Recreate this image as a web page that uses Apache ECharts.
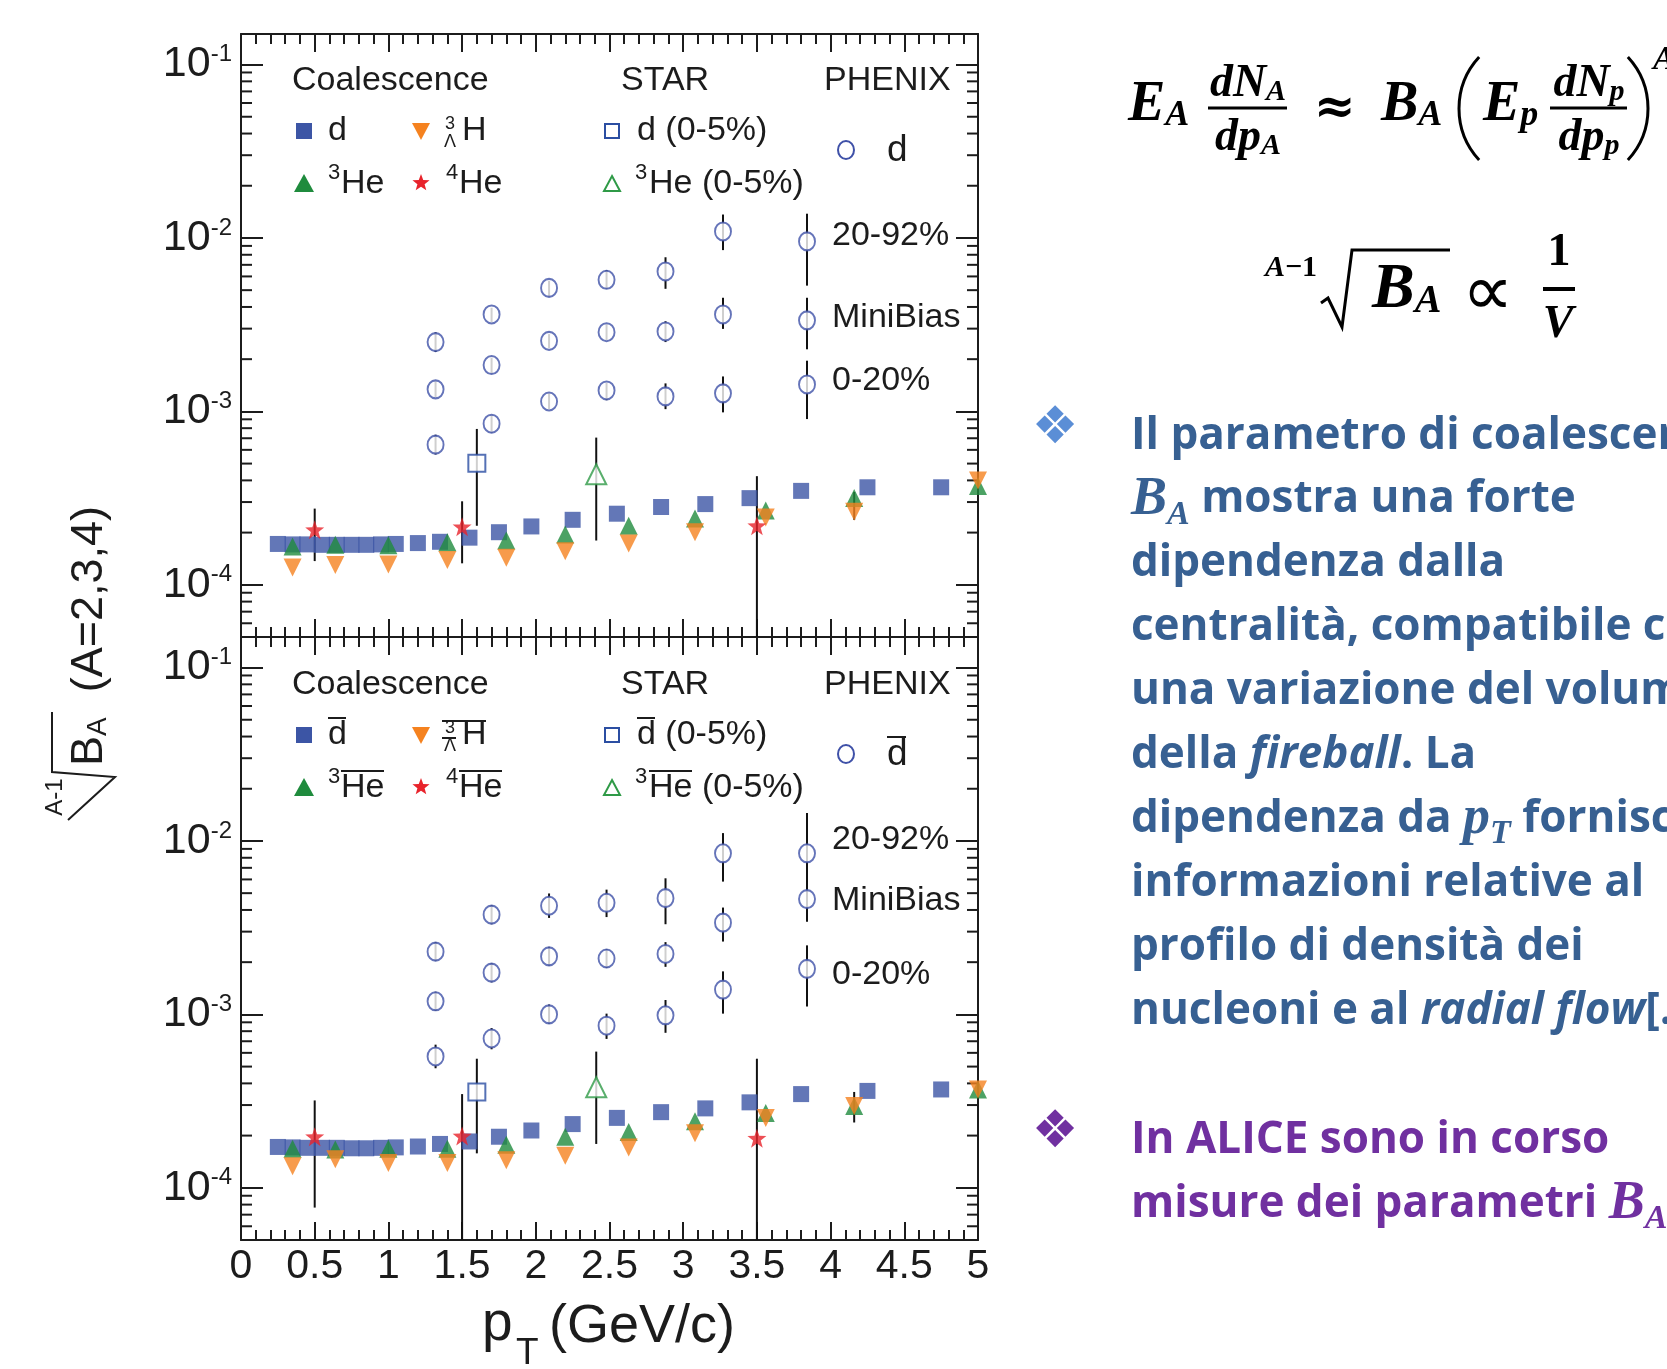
<!DOCTYPE html>
<html>
<head>
<meta charset="utf-8">
<script src="https://cdn.jsdelivr.net/npm/echarts@6/dist/echarts.min.js"></script>
<style>
html,body{margin:0;padding:0;background:#fff;}
#c{width:1667px;height:1369px;}
</style>
</head>
<body>
<div id="c"></div>
<script>
// ---------------- DATA ----------------
const ptD = [0.25,0.35,0.45,0.55,0.65,0.75,0.85,0.95,1.05,1.2,1.35,1.55,1.75,1.97,2.25,2.55,2.85,3.15,3.45,3.8,4.25,4.75];
const ptA3 = [0.35,0.64,1.0,1.4,1.8,2.2,2.63,3.08,3.56,4.16,5.0];
const ptA4 = [0.5,1.5,3.5];
const ptPhenix = [1.32,1.70,2.09,2.48,2.88,3.27,3.84];
const ptStarD = [1.6];
const ptStarHe3 = [2.41];
const ptA3Err = [4.16];

// top panel: particles
const topD   = [1.72e-4,1.71e-4,1.71e-4,1.70e-4,1.70e-4,1.70e-4,1.70e-4,1.71e-4,1.72e-4,1.74e-4,1.77e-4,1.87e-4,2.01e-4,2.17e-4,2.37e-4,2.57e-4,2.81e-4,2.92e-4,3.16e-4,3.48e-4,3.65e-4,3.65e-4];
const topH3L = [1.26e-4,1.30e-4,1.31e-4,1.39e-4,1.43e-4,1.56e-4,1.73e-4,2.01e-4,2.44e-4,2.64e-4,4.0e-4];
const topHe3 = [1.66e-4,1.70e-4,1.69e-4,1.76e-4,1.80e-4,1.95e-4,2.19e-4,2.41e-4,2.68e-4,3.17e-4,3.71e-4];
const topA3ErrLo = [2.37e-4];
const topA3ErrHi = [3.43e-4];
const topHe4   = [2.08e-4,2.16e-4,2.19e-4];
const topHe4Lo = [1.37e-4,1.33e-4,1e-5];
const topHe4Hi = [2.75e-4,3.03e-4,4.23e-4];
const topStarD = [5.02e-4], topStarDLo = [2.19e-4], topStarDHi = [7.92e-4];
const topStarHe3 = [4.34e-4], topStarHe3Lo = [1.80e-4], topStarHe3Hi = [7.06e-4];
const topPh2092   = [2.51e-3,3.62e-3,5.15e-3,5.74e-3,6.41e-3,1.09e-2,9.55e-3];
const topPh2092Lo = [2.20e-3,3.26e-3,4.59e-3,5.09e-3,5.09e-3,8.51e-3,5.31e-3];
const topPh2092Hi = [2.86e-3,3.96e-3,5.66e-3,6.52e-3,7.74e-3,1.365e-2,1.38e-2];
const topPhMB     = [1.34e-3,1.85e-3,2.55e-3,2.86e-3,2.89e-3,3.62e-3,3.35e-3];
const topPhMBLo   = [1.21e-3,1.65e-3,2.32e-3,2.58e-3,2.51e-3,2.99e-3,2.28e-3];
const topPhMBHi   = [1.49e-3,2.04e-3,2.79e-3,3.18e-3,3.31e-3,4.52e-3,4.52e-3];
const topPh020    = [6.43e-4,8.49e-4,1.14e-3,1.32e-3,1.22e-3,1.27e-3,1.43e-3];
const topPh020Lo  = [5.64e-4,7.52e-4,1.03e-3,1.16e-3,1.03e-3,9.87e-4,9.03e-4];
const topPh020Hi  = [7.33e-4,9.52e-4,1.27e-3,1.46e-3,1.45e-3,1.59e-3,1.96e-3];

// bottom panel: antiparticles
const botD   = [1.72e-4,1.71e-4,1.70e-4,1.70e-4,1.70e-4,1.69e-4,1.69e-4,1.70e-4,1.71e-4,1.73e-4,1.79e-4,1.85e-4,1.97e-4,2.14e-4,2.33e-4,2.53e-4,2.73e-4,2.87e-4,3.11e-4,3.47e-4,3.62e-4,3.69e-4];
const botH3L = [1.33e-4,1.46e-4,1.39e-4,1.39e-4,1.44e-4,1.53e-4,1.71e-4,2.06e-4,2.53e-4,2.96e-4,3.69e-4];
const botHe3 = [1.68e-4,1.66e-4,1.68e-4,1.68e-4,1.77e-4,1.97e-4,2.10e-4,2.42e-4,2.70e-4,2.96e-4,3.69e-4];
const botA3ErrLo = [2.38e-4];
const botA3ErrHi = [3.57e-4];
const botHe4   = [1.97e-4,1.99e-4,1.93e-4];
const botHe4Lo = [7.69e-5,1e-5,1e-5];
const botHe4Hi = [3.19e-4,3.47e-4,5.55e-4];
const botStarD = [3.57e-4], botStarDLo = [1.58e-4], botStarDHi = [5.55e-4];
const botStarHe3 = [3.80e-4], botStarHe3Lo = [1.79e-4], botStarHe3Hi = [6.10e-4];
const botPh2092   = [2.30e-3,3.76e-3,4.23e-3,4.40e-3,4.68e-3,8.49e-3,8.49e-3];
const botPh2092Lo = [2.03e-3,3.31e-3,3.60e-3,3.64e-3,3.31e-3,5.83e-3,4.98e-3];
const botPh2092Hi = [2.61e-3,4.26e-3,4.98e-3,5.24e-3,6.09e-3,1.11e-2,1.45e-2];
const botPhMB     = [1.19e-3,1.74e-3,2.16e-3,2.10e-3,2.23e-3,3.38e-3,4.62e-3];
const botPhMBLo   = [1.05e-3,1.53e-3,1.91e-3,1.85e-3,1.88e-3,2.63e-3,3.42e-3];
const botPhMBHi   = [1.35e-3,1.97e-3,2.45e-3,2.38e-3,2.61e-3,4.13e-3,5.83e-3];
const botPh020    = [5.72e-4,7.26e-4,1.00e-3,8.60e-4,9.88e-4,1.39e-3,1.83e-3];
const botPh020Lo  = [4.89e-4,6.29e-4,8.82e-4,7.22e-4,7.83e-4,1.01e-3,1.11e-3];
const botPh020Hi  = [6.69e-4,8.34e-4,1.14e-3,1.01e-3,1.21e-3,1.77e-3,2.50e-3];

// axis ticks
const xTickInterval = 0.5;
const yMin = 5e-5, yMax = 0.15;
const yMinorTicks = [6e-5,7e-5,8e-5,9e-5,2e-4,3e-4,4e-4,5e-4,6e-4,7e-4,8e-4,9e-4,2e-3,3e-3,4e-3,5e-3,6e-3,7e-3,8e-3,9e-3,2e-2,3e-2,4e-2,5e-2,6e-2,7e-2,8e-2,9e-2];

// ---------------- STYLE ----------------
const INK = '#1c1c1c';
const C_D = '#3c55a5', C_GREEN = '#1f8b3d', C_ORANGE = '#f5821f', C_RED = '#e8232b';
const C_PH = '#3f51a8', C_STARD = '#2b4ea2', C_STARHE = '#2f9a47';
const SANS = 'Liberation Sans';
const SERIF = 'Liberation Serif';
const STAR_PATH = 'path://M0,-50 L11.8,-16.2 L47.6,-15.5 L19,6.2 L29.4,40.5 L0,20 L-29.4,40.5 L-19,6.2 L-47.6,-15.5 L-11.8,-16.2 Z';

const pts = (xs, ys) => xs.map((x, i) => [x, ys[i]]);
const errs = (xs, lo, hi) => xs.map((x, i) => [x, lo[i], hi[i]]);

function xAx(grid, pos, showLabel) {
  return {
    type: 'value', gridIndex: grid, position: pos, min: 0, max: 5, interval: xTickInterval,
    axisLine: {show: true, onZero: false, lineStyle: {color: INK, width: 2}},
    axisTick: {show: true, inside: true, length: 18, lineStyle: {color: INK, width: 2}},
    minorTick: {show: true, splitNumber: 5, length: 10, lineStyle: {color: INK, width: 2}},
    splitLine: {show: false}, minorSplitLine: {show: false},
    axisLabel: {show: showLabel, fontSize: 41, fontFamily: SANS, color: INK, margin: 6,
      showMinLabel: true, showMaxLabel: true, formatter: v => String(v)}
  };
}
function logLabel(v) {
  const e = Math.log10(v), r = Math.round(e);
  if (Math.abs(e - r) > 1e-6) return '';
  return '{b|10}{s|' + r + '}';
}
function yAx(grid, pos, showLabel) {
  return {
    type: 'log', logBase: 10, gridIndex: grid, position: pos, min: yMin, max: yMax, splitNumber: 3,
    axisLine: {show: true, onZero: false, lineStyle: {color: INK, width: 2}},
    axisTick: {show: true, inside: true, length: 22, lineStyle: {color: INK, width: 2}},
    minorTick: {show: false}, splitLine: {show: false},
    axisLabel: {show: showLabel, margin: 9, formatter: logLabel,
      rich: {
        b: {fontSize: 43, fontFamily: SANS, color: INK, lineHeight: 44},
        s: {fontSize: 24, fontFamily: SANS, color: INK, lineHeight: 10, verticalAlign: 'top'}
      }}
  };
}

function minorTickItem(params, api) {
  const y = api.coord([0, api.value(1)])[1];
  const cs = params.coordSys;
  const st = {stroke: INK, lineWidth: 2};
  return {type: 'group', children: [
    {type: 'line', shape: {x1: cs.x, y1: y, x2: cs.x + 11, y2: y}, style: st},
    {type: 'line', shape: {x1: cs.x + cs.width, y1: y, x2: cs.x + cs.width - 11, y2: y}, style: st}
  ]};
}
function errItem(params, api) {
  const cs = params.coordSys;
  const x = api.value(0);
  const a = api.coord([x, api.value(1)]);
  const b = api.coord([x, api.value(2)]);
  const clamp = y => Math.max(cs.y, Math.min(cs.y + cs.height, y));
  return {type: 'line', shape: {x1: a[0], y1: clamp(a[1]), x2: b[0], y2: clamp(b[1])},
    style: {stroke: '#111', lineWidth: 2}};
}

function panelSeries(p, P) {
  const ax = p * 2;
  const base = {xAxisIndex: ax, yAxisIndex: ax, silent: true, animation: false};
  const sc = (data, symbol, size, item, extra) => Object.assign({type: 'scatter', data, symbol, symbolSize: size, itemStyle: item}, base, extra || {});
  const errData = [].concat(
    errs(ptA3Err, P.a3lo, P.a3hi),
    errs(ptA4, P.he4lo, P.he4hi),
    errs(ptStarD, P.sdlo, P.sdhi),
    errs(ptStarHe3, P.shlo, P.shhi),
    errs(ptPhenix, P.p1lo, P.p1hi),
    errs(ptPhenix, P.p2lo, P.p2hi),
    errs(ptPhenix, P.p3lo, P.p3hi)
  );
  const phStyle = {color: '#fff', borderColor: C_PH, borderWidth: 2};
  return [
    Object.assign({type: 'custom', renderItem: minorTickItem, data: yMinorTicks.map(v => [0, v]), encode: {x: 0, y: 1}}, base),
    sc(pts(ptD, P.d), 'rect', 16, {color: C_D}),
    sc(pts(ptA3, P.he3), 'triangle', 18, {color: C_GREEN}),
    sc(pts(ptA3, P.h3l), 'triangle', 18, {color: C_ORANGE}, {symbolRotate: 180}),
    Object.assign({type: 'custom', renderItem: errItem, data: errData, encode: {x: 0, y: [1, 2]}}, base),
    sc(pts(ptA4, P.he4), STAR_PATH, 19, {color: C_RED}),
    sc(pts(ptStarD, P.sd), 'rect', 17, {color: '#fff', borderColor: C_STARD, borderWidth: 2}),
    sc(pts(ptStarHe3, P.sh), 'triangle', 20, {color: '#fff', borderColor: C_STARHE, borderWidth: 2}),
    sc(pts(ptPhenix, P.p1), 'circle', [16, 18], phStyle),
    sc(pts(ptPhenix, P.p2), 'circle', [16, 18], phStyle),
    sc(pts(ptPhenix, P.p3), 'circle', [16, 18], phStyle)
  ];
}

const TOP = {d: topD, he3: topHe3, h3l: topH3L, a3lo: topA3ErrLo, a3hi: topA3ErrHi,
  he4: topHe4, he4lo: topHe4Lo, he4hi: topHe4Hi,
  sd: topStarD, sdlo: topStarDLo, sdhi: topStarDHi, sh: topStarHe3, shlo: topStarHe3Lo, shhi: topStarHe3Hi,
  p1: topPh2092, p1lo: topPh2092Lo, p1hi: topPh2092Hi, p2: topPhMB, p2lo: topPhMBLo, p2hi: topPhMBHi,
  p3: topPh020, p3lo: topPh020Lo, p3hi: topPh020Hi};
const BOT = {d: botD, he3: botHe3, h3l: botH3L, a3lo: botA3ErrLo, a3hi: botA3ErrHi,
  he4: botHe4, he4lo: botHe4Lo, he4hi: botHe4Hi,
  sd: botStarD, sdlo: botStarDLo, sdhi: botStarDHi, sh: botStarHe3, shlo: botStarHe3Lo, shhi: botStarHe3Hi,
  p1: botPh2092, p1lo: botPh2092Lo, p1hi: botPh2092Hi, p2: botPhMB, p2lo: botPhMBLo, p2hi: botPhMBHi,
  p3: botPh020, p3lo: botPh020Lo, p3hi: botPh020Hi};

// ---------------- GRAPHIC (legends, titles, side text) ----------------
const G = [];
function T(x, y, text, size, o) {
  o = o || {};
  G.push({type: 'text', x, y, silent: true, rotation: o.rotation || 0,
    style: {text, fontSize: size, fontFamily: o.family || SANS, fontWeight: o.weight || 'normal',
      fontStyle: o.style || 'normal', fill: o.fill || INK,
      align: o.align || 'left', textAlign: o.align || 'left',
      verticalAlign: 'middle', textVerticalAlign: 'middle', rich: o.rich}});
}
function L(x1, y1, x2, y2, w, c) {
  G.push({type: 'line', silent: true, shape: {x1, y1, x2, y2}, style: {stroke: c || INK, lineWidth: w || 2}});
}
function starPts(cx, cy, R) {
  const out = [];
  for (let k = 0; k < 10; k++) {
    const a = -Math.PI / 2 + k * Math.PI / 5, rr = (k % 2) ? R * 0.42 : R;
    out.push([cx + rr * Math.cos(a), cy + rr * Math.sin(a)]);
  }
  return out;
}
function legend(dy, anti) {
  const FS = 34;
  const r1 = 131 + dy, r2 = 184 + dy, hy = 81 + dy;
  T(292, hy, 'Coalescence', FS);
  T(621, hy, 'STAR', FS);
  T(824, hy, 'PHENIX', FS);
  // row 1
  G.push({type: 'rect', silent: true, shape: {x: 296, y: r1 - 8, width: 16, height: 16}, style: {fill: C_D}});
  T(328, r1, 'd', FS);
  G.push({type: 'polygon', silent: true, shape: {points: [[412, r1 - 8], [430, r1 - 8], [421, r1 + 9]]}, style: {fill: C_ORANGE}});
  T(445, r1 - 7, '3', 18);
  T(444, r1 + 11, 'Λ', 18);
  T(462, r1, 'H', FS);
  G.push({type: 'rect', silent: true, shape: {x: 605, y: r1 - 7, width: 14, height: 14}, style: {fill: '#fff', stroke: C_STARD, lineWidth: 2}});
  T(637, r1, 'd (0-5%)', FS);
  // row 2
  G.push({type: 'polygon', silent: true, shape: {points: [[304, r2 - 10], [314, r2 + 8], [294, r2 + 8]]}, style: {fill: C_GREEN}});
  T(328, r2 - 11, '3', 22);
  T(341, r2, 'He', FS);
  G.push({type: 'polygon', silent: true, shape: {points: starPts(421, r2 - 1, 9)}, style: {fill: C_RED}});
  T(446, r2 - 11, '4', 22);
  T(459, r2, 'He', FS);
  G.push({type: 'polygon', silent: true, shape: {points: [[612, r2 - 8], [620, r2 + 7], [604, r2 + 7]]}, style: {fill: '#fff', stroke: C_STARHE, lineWidth: 2}});
  T(635, r2 - 11, '3', 22);
  T(649, r2, 'He (0-5%)', FS);
  // PHENIX
  G.push({type: 'ellipse', silent: true, shape: {cx: 846, cy: 150 + dy, rx: 8, ry: 9}, style: {fill: '#fff', stroke: C_PH, lineWidth: 2}});
  T(887, 151 + dy, 'd', 37);
  if (anti) {
    L(328, r1 - 17, 346, r1 - 17, 2);
    L(442, r1 - 14, 486, r1 - 14, 2);
    L(442, r1 + 3, 456, r1 + 3, 2);
    L(637, r1 - 17, 655, r1 - 17, 2);
    L(341, r2 - 17, 384, r2 - 17, 2);
    L(459, r2 - 17, 502, r2 - 17, 2);
    L(649, r2 - 17, 692, r2 - 17, 2);
    L(887, 151 + dy - 18, 906, 151 + dy - 18, 2);
  }
}
legend(0, false);
legend(604, true);
T(832, 236, '20-92%', 34); T(832, 318, 'MiniBias', 34); T(832, 381, '0-20%', 34);
T(832, 840, '20-92%', 34); T(832, 901, 'MiniBias', 34); T(832, 975, '0-20%', 34);

// x-axis title
T(482, 1325, 'p', 55);
T(516, 1354, 'T', 37);
T(549, 1327, '(GeV/c)', 54);

// y-axis title (rotated)
T(90, 636, '{B|B}{s|A}{t|  (A=2,3,4)}', 45, {rotation: Math.PI / 2, align: 'center', rich: {
  B: {fontSize: 45, fontFamily: SANS, fill: INK},
  s: {fontSize: 28, fontFamily: SANS, fill: INK, verticalAlign: 'bottom', lineHeight: 30},
  t: {fontSize: 45, fontFamily: SANS, fill: INK}
}});
G.push({type: 'polyline', silent: true, shape: {points: [[68, 820], [115, 777], [52, 772], [52, 712]]}, style: {stroke: INK, lineWidth: 2, fill: null}});
T(55, 797, 'A-1', 24, {rotation: Math.PI / 2, align: 'center'});

// ---- formulas ----
function mr(x, y, main, sub, mSize, sSize, align, subDrop) {
  T(x, y, '{m|' + main + '}{s|' + sub + '}', mSize, {align: align || 'left', rich: {
    m: {fontSize: mSize, fontFamily: SERIF, fontStyle: 'italic', fontWeight: 'bold', fill: '#000', lineHeight: mSize},
    s: {fontSize: sSize, fontFamily: SERIF, fontStyle: 'italic', fontWeight: 'bold', fill: '#000',
        lineHeight: subDrop, verticalAlign: 'bottom'}
  }});
}
function arcP(cx, cy, r, a0, a1) {
  G.push({type: 'arc', silent: true, shape: {cx, cy, r, startAngle: a0, endAngle: a1, clockwise: true},
    style: {stroke: '#000', lineWidth: 3, fill: null}});
}
mr(1128, 106, 'E', 'A', 56, 36, 'left', 22);
mr(1248, 84, 'dN', 'A', 46, 30, 'center', 20);
L(1208, 108, 1287, 108, 3, '#000');
mr(1248, 138, 'dp', 'A', 46, 30, 'center', 20);
T(1314, 110, '≈', 50, {family: 'DejaVu Serif', weight: 'bold', fill: '#000'});
mr(1381, 106, 'B', 'A', 56, 36, 'left', 22);
arcP(1535, 108.5, 76, Math.PI - 0.745, Math.PI + 0.745);
mr(1483, 106, 'E', 'p', 56, 36, 'left', 28);
mr(1589, 84, 'dN', 'p', 46, 30, 'center', 22);
L(1550, 108, 1627, 108, 3, '#000');
mr(1589, 138, 'dp', 'p', 46, 30, 'center', 22);
arcP(1572, 108.5, 76, -0.745, 0.745);
T(1653, 60, 'A', 34, {family: SERIF, weight: 'bold', style: 'italic', fill: '#000'});

T(1265, 268, '{i|A}{n|−1}', 30, {rich: {
  i: {fontSize: 30, fontFamily: SERIF, fontStyle: 'italic', fontWeight: 'bold', fill: '#000'},
  n: {fontSize: 30, fontFamily: SERIF, fontWeight: 'bold', fill: '#000'}}});
G.push({type: 'polyline', silent: true, shape: {points: [[1321, 303], [1328, 298], [1342, 327], [1352, 250], [1450, 250]]}, style: {stroke: '#000', lineWidth: 3, fill: null}});
mr(1372, 290, 'B', 'A', 64, 40, 'left', 28);
T(1462, 296, '∝', 72, {family: 'DejaVu Sans', fill: '#000'});
T(1559, 253, '1', 46, {family: SERIF, weight: 'bold', align: 'center', fill: '#000'});
L(1543, 289, 1575, 289, 4, '#000');
T(1558, 325, 'V', 46, {family: SERIF, weight: 'bold', style: 'italic', align: 'center', fill: '#000'});

// ---- bullet text ----
const BLUE = '#376092', PURPLE = '#7030a0';
function richFor(col) {
  const b = {fontSize: 44, fontFamily: 'Open Sans', fontWeight: 'bold', fill: col, lineHeight: 64};
  return {
    t: b,
    i: Object.assign({}, b, {fontStyle: 'italic'}),
    mB: {fontSize: 54, fontFamily: SERIF, fontStyle: 'italic', fontWeight: 'bold', fill: col, lineHeight: 64},
    mS: {fontSize: 34, fontFamily: SERIF, fontStyle: 'italic', fontWeight: 'bold', fill: col, lineHeight: 30, verticalAlign: 'bottom'}
  };
}
const bodyBlue = [
  '{t|Il parametro di coalescenza}',
  '{mB|B}{mS|A}{t| mostra una forte}',
  '{t|dipendenza dalla}',
  '{t|centralità, compatibile con}',
  '{t|una variazione del volume}',
  '{t|della }{i|fireball}{t|. La}',
  '{t|dipendenza da }{mB|p}{mS|T}{t| fornisce}',
  '{t|informazioni relative al}',
  '{t|profilo di densità dei}',
  '{t|nucleoni e al }{i|radial flow}{t|[...]}'
];
const bodyPurple = [
  '{t|In ALICE sono in corso}',
  '{t|misure dei parametri }{mB|B}{mS|A}'
];
bodyBlue.forEach((s, k) => T(1131, 436 + 63.9 * k, s, 44, {rich: richFor(BLUE), fill: BLUE}));
bodyPurple.forEach((s, k) => T(1131, 1140 + 64 * k, s, 44, {rich: richFor(PURPLE), fill: PURPLE}));
T(1055, 429, '❖', 52, {family: 'DejaVu Sans', fill: '#5b8ed6', align: 'center'});
T(1055, 1133, '❖', 52, {family: 'DejaVu Sans', fill: PURPLE, align: 'center'});

// ---------------- CHART ----------------
const chart = echarts.init(document.getElementById('c'), null, {renderer: 'canvas'});
chart.setOption({
  animation: false,
  backgroundColor: '#fff',
  grid: [
    {left: 241, top: 34, width: 737, height: 603},
    {left: 241, top: 637, width: 737, height: 603}
  ],
  xAxis: [xAx(0, 'bottom', false), xAx(0, 'top', false), xAx(1, 'bottom', true), xAx(1, 'top', false)],
  yAxis: [yAx(0, 'left', true), yAx(0, 'right', false), yAx(1, 'left', true), yAx(1, 'right', false)],
  series: [].concat(panelSeries(0, TOP), panelSeries(1, BOT)),
  graphic: {elements: G}
});
</script>
</body>
</html>
